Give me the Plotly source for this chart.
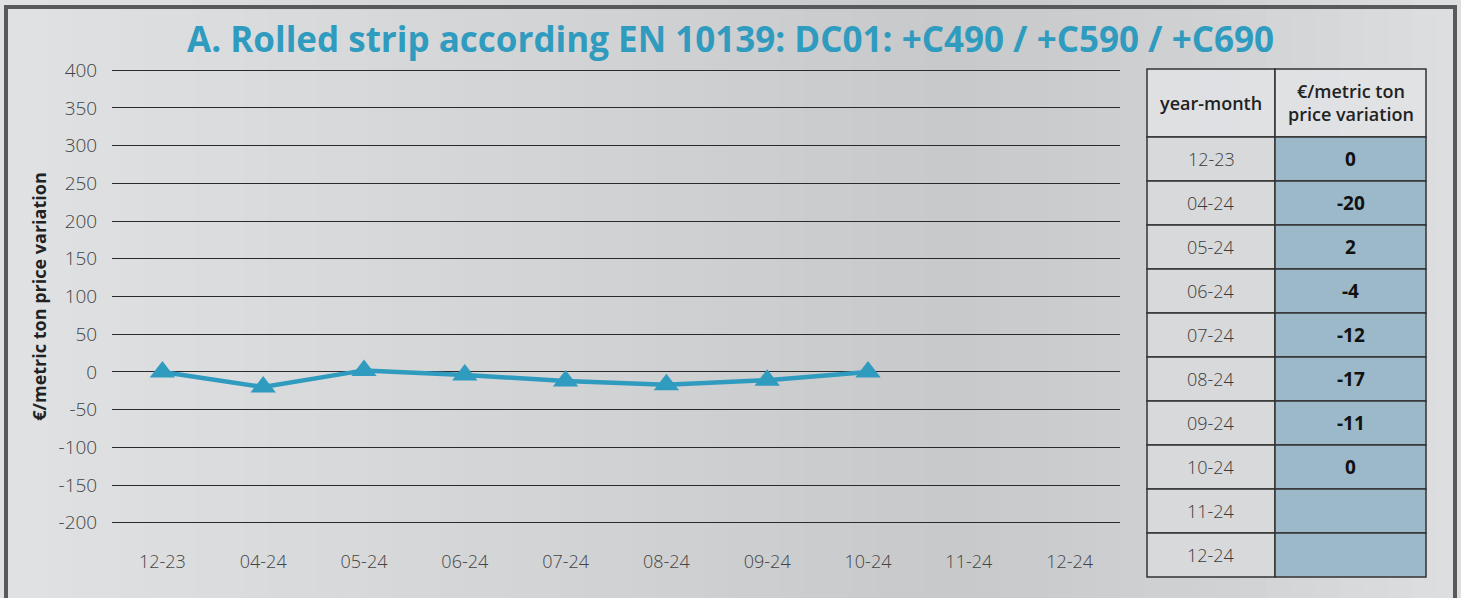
import plotly.graph_objects as go

months = ["12-23", "04-24", "05-24", "06-24", "07-24", "08-24", "09-24", "10-24", "11-24", "12-24"]
values = [0, -20, 2, -4, -12, -17, -11, 0, None, None]
y_ticks = [400, 350, 300, 250, 200, 150, 100, 50, 0, -50, -100, -150, -200]
table_headers = ["year-month", "€/metric ton<br>price variation"]

TITLE = "A. Rolled strip according EN 10139: DC01: +C490 / +C590 / +C690"
Y_TITLE = "€/metric ton price variation"
LINE_COLOR = "#2f9bbf"
FONT = "'Open Sans', Lato, sans-serif"

W, H = 1461, 598
ML, MR, MT, MB = 112, 341, 68, 73
PW, PH = W - ML - MR, H - MT - MB


def px_x(p):
    return (p - ML) / PW


def px_y(p):
    return (H - MB - p) / PH


fig = go.Figure()

xs = list(range(len(months)))
fig.add_trace(go.Scatter(
    x=xs, y=values, mode="lines+markers",
    line=dict(color=LINE_COLOR, width=4.5),
    marker=dict(symbol="triangle-up", size=22, color=LINE_COLOR),
    connectgaps=False, showlegend=False, hoverinfo="x+y",
))

shapes = []
annotations = []

# background gradient strips (decoration)
n = 60
x0 = px_x(0)
x1 = px_x(W)
stops = [(0.0, (224, 226, 228)), (0.35, (212, 213, 215)), (0.65, (200, 201, 203)),
         (0.85, (210, 211, 213)), (1.0, (222, 223, 225))]


def col_at(t):
    for (a, ca), (b, cb) in zip(stops[:-1], stops[1:]):
        if a <= t <= b:
            f = (t - a) / (b - a)
            return tuple(int(ca[k] + (cb[k] - ca[k]) * f) for k in range(3))
    return stops[-1][1]


for i in range(n):
    t0 = i / n
    t1 = (i + 1) / n
    c = col_at((t0 + t1) / 2)
    shapes.append(dict(
        type="rect", xref="paper", yref="paper", layer="below",
        x0=x0 + (x1 - x0) * t0, x1=x0 + (x1 - x0) * t1 + 0.002,
        y0=px_y(H + 5), y1=px_y(-5),
        fillcolor="rgb(%d,%d,%d)" % c, line=dict(width=0),
    ))

# outer frame
shapes.append(dict(
    type="rect", xref="paper", yref="paper", layer="below",
    x0=px_x(6), x1=px_x(1455), y0=px_y(H + 10), y1=px_y(7),
    fillcolor="rgba(0,0,0,0)", line=dict(color="#58595b", width=4),
))

# table drawn from data
col_edges = [1147, 1275, 1426]
header_top, header_bottom = 69, 137
row_h = 44
LINE = dict(color="#333333", width=1.5)
for c in range(2):
    shapes.append(dict(
        type="rect", xref="paper", yref="paper", layer="above",
        x0=px_x(col_edges[c]), x1=px_x(col_edges[c + 1]),
        y0=px_y(header_bottom), y1=px_y(header_top),
        fillcolor="rgba(226,227,229,0.85)", line=LINE,
    ))
    annotations.append(dict(
        xref="paper", yref="paper", showarrow=False,
        x=px_x((col_edges[c] + col_edges[c + 1]) / 2),
        y=px_y((header_top + header_bottom) / 2),
        xanchor="center", yanchor="middle", align="center",
        text=table_headers[c],
        font=dict(family=FONT, size=18, color="#222222", weight=600),
    ))
for r, (m, v) in enumerate(zip(months, values)):
    top = header_bottom + r * row_h
    bot = top + row_h
    cells = [(m, "rgba(216,217,219,0.9)", dict(family=FONT, size=18, color="#3a3a3a", weight=300)),
             ("" if v is None else "<b>%d</b>" % v, "#9bb9c9",
              dict(family=FONT, size=19, color="#111111"))]
    for c, (txt, fill, fnt) in enumerate(cells):
        shapes.append(dict(
            type="rect", xref="paper", yref="paper", layer="above",
            x0=px_x(col_edges[c]), x1=px_x(col_edges[c + 1]),
            y0=px_y(bot), y1=px_y(top),
            fillcolor=fill, line=LINE,
        ))
        if txt:
            annotations.append(dict(
                xref="paper", yref="paper", showarrow=False,
                x=px_x((col_edges[c] + col_edges[c + 1]) / 2),
                y=px_y((top + bot) / 2),
                xanchor="center", yanchor="middle",
                text=txt, font=fnt,
            ))

fig.update_layout(
    width=W, height=H,
    margin=dict(l=ML, r=MR, t=MT, b=MB),
    paper_bgcolor="#b9bbbd",
    plot_bgcolor="rgba(0,0,0,0)",
    shapes=shapes,
    annotations=annotations,
    title=dict(
        text="<b>" + TITLE + "</b>",
        x=0.5, xref="container", xanchor="center",
        y=1 - 40 / H, yref="container", yanchor="middle",
        font=dict(family=FONT, size=35, color=LINE_COLOR),
    ),
    xaxis=dict(
        range=[-0.5, len(months) - 0.5],
        tickvals=xs, ticktext=months,
        showgrid=False, zeroline=False, showline=False,
        ticks="outside", ticklen=20, tickcolor="rgba(0,0,0,0)",
        tickfont=dict(family=FONT, size=18, color="#444444", weight=300),
        fixedrange=True,
    ),
    yaxis=dict(
        range=[-203, 403],
        tickvals=y_ticks, ticktext=[str(v) for v in y_ticks],
        showgrid=True, gridcolor="#2a2a2a", gridwidth=1.3,
        zeroline=False, showline=False,
        ticks="outside", ticklen=10, tickcolor="rgba(0,0,0,0)",
        tickfont=dict(family=FONT, size=19, color="#444444", weight=300),
        title=dict(text="<b>" + Y_TITLE + "</b>", standoff=7,
                   font=dict(family=FONT, size=18, color="#222222")),
        fixedrange=True,
    ),
)

fig.write_html(
    "out.html",
    config={"displayModeBar": False},
    post_script="document.body.style.margin='0';document.body.style.overflow='hidden';",
)
